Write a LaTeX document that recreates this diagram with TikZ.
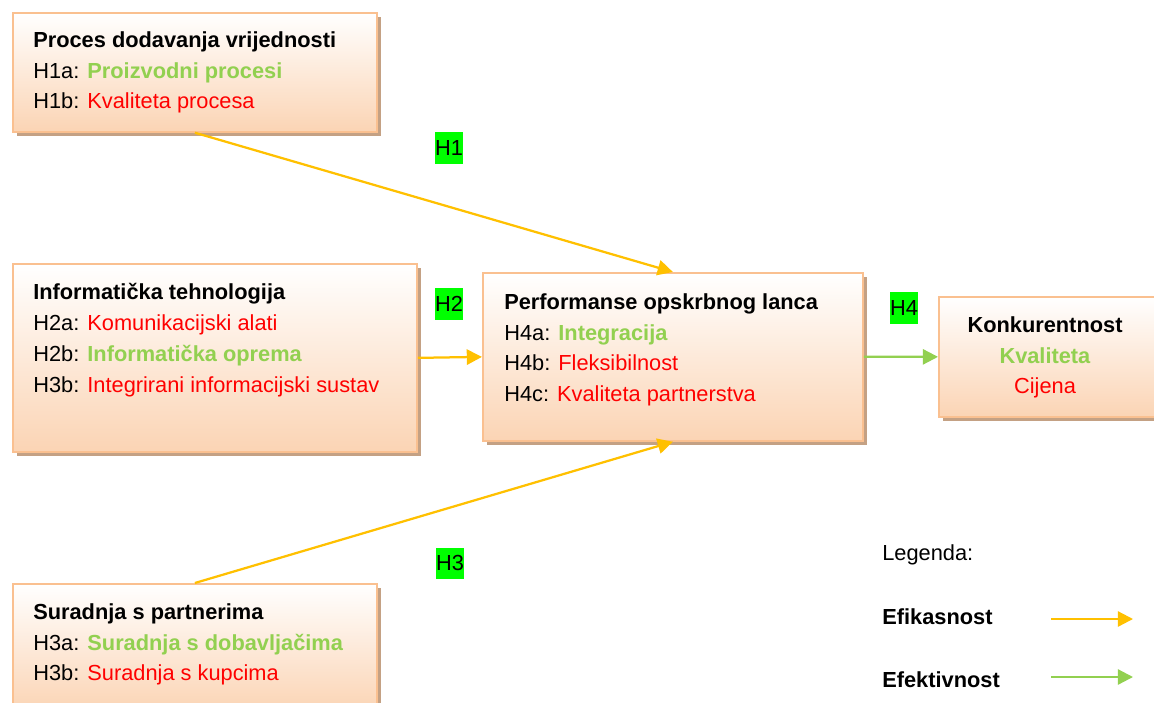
\documentclass[tikz,border=0pt]{standalone}
\usepackage{fontspec}
\setmainfont{Liberation Sans}
\usetikzlibrary{arrows.meta,shadows}
\definecolor{zuta}{HTML}{FFC000}
\definecolor{zelena}{HTML}{92D050}
\definecolor{crvena}{HTML}{FF0000}
\definecolor{hzelena}{HTML}{00FF00}
\definecolor{okvirrub}{HTML}{FAC090}
\definecolor{okvirdno}{HTML}{FBD4B4}
\definecolor{sjena}{HTML}{C4A184}
\newcommand{\zel}[1]{\textcolor{zelena}{\textbf{#1}}}
\newcommand{\crv}[1]{\textcolor{crvena}{#1}}
\tikzset{
  okvir/.style={anchor=north west, inner sep=0, draw=okvirrub, line width=1.2pt,
    top color=white, bottom color=okvirdno,
    general shadow={shadow xshift=3pt, shadow yshift=-3pt, fill=sjena}},
  tekst/.style={anchor=north west, inner sep=0, align=left, font=\fontsize{15.5}{22}\selectfont},
  oznaka/.style={fill=hzelena, inner sep=0, minimum height=0.775cm, font=\fontsize{15.5}{22}\selectfont},
  efik/.style={draw=zuta, line width=1.6pt, -{Triangle[length=0.38cm,width=0.38cm]}},
  efekt/.style={draw=zelena, line width=1.6pt, -{Triangle[length=0.38cm,width=0.38cm]}}
}
\begin{document}
\begin{tikzpicture}[x=0.025cm, y=-0.025cm]
  \useasboundingbox (0,0) rectangle (1154,702);

  \node (proces) [okvir, minimum width=9.1cm, minimum height=2.975cm] at (12,12) {};
  \node (informaticka) [okvir, minimum width=10.1cm, minimum height=4.7cm] at (12,263) {};
  \node (suradnja) [okvir, minimum width=9.1cm, minimum height=3.2cm] at (12,583) {};
  \node (performanse) [okvir, minimum width=9.5cm, minimum height=4.2cm] at (482,272) {};
  \node (konkurentnost) [okvir, minimum width=5.8cm, minimum height=3cm] at (938,296) {};

  \node (procestxt) [tekst] at (33,31) {\textbf{Proces dodavanja vrijednosti}\\
    H1a: \zel{Proizvodni procesi}\\
    H1b: \crv{Kvaliteta procesa}};
  \node (informatickatxt) [tekst] at (33,283) {\textbf{Informatička tehnologija}\\
    H2a: \crv{Komunikacijski alati}\\
    H2b: \zel{Informatička oprema}\\
    H3b: \crv{Integrirani informacijski sustav}};
  \node (suradnjatxt) [tekst] at (33,603) {\textbf{Suradnja s partnerima}\\
    H3a: \zel{Suradnja s dobavljačima}\\
    H3b: \crv{Suradnja s kupcima}};
  \node (performansetxt) [tekst] at (504,293) {\textbf{Performanse opskrbnog lanca}\\
    H4a: \zel{Integracija}\\
    H4b: \crv{Fleksibilnost}\\
    H4c: \crv{Kvaliteta partnerstva}};
  \node (konkurentnosttxt) [tekst, anchor=north, align=center] at (1045,316) {\textbf{Konkurentnost}\\
    \zel{Kvaliteta}\\
    \crv{Cijena}};

  \node (h1) [oznaka] at (449,148) {H1};
  \node (h2) [oznaka] at (449,304) {H2};
  \node (h3) [oznaka] at (450,563) {H3};
  \node (h4) [oznaka] at (904,308) {H4};

  \draw (proces.south) edge[efik] (performanse.north);
  \draw (informaticka.east) edge[efik] (performanse.west);
  \draw (suradnja.north) edge[efik] (performanse.south);
  \draw (performanse.east) edge[efekt] (konkurentnost.west);

  \node (legenda) [tekst, anchor=west] at (882,555) {Legenda:};
  \node (efikasnost) [tekst, anchor=west] at (882,617) {\textbf{Efikasnost}};
  \node (efektivnost) [tekst, anchor=west] at (882,680) {\textbf{Efektivnost}};
  \coordinate (efikpoc) at (1051,619);
  \coordinate (efikkraj) at (1133,619);
  \coordinate (efektpoc) at (1051,677);
  \coordinate (efektkraj) at (1133,677);
  \draw (efikpoc) edge[efik] (efikkraj);
  \draw (efektpoc) edge[efekt] (efektkraj);
\end{tikzpicture}
\end{document}
